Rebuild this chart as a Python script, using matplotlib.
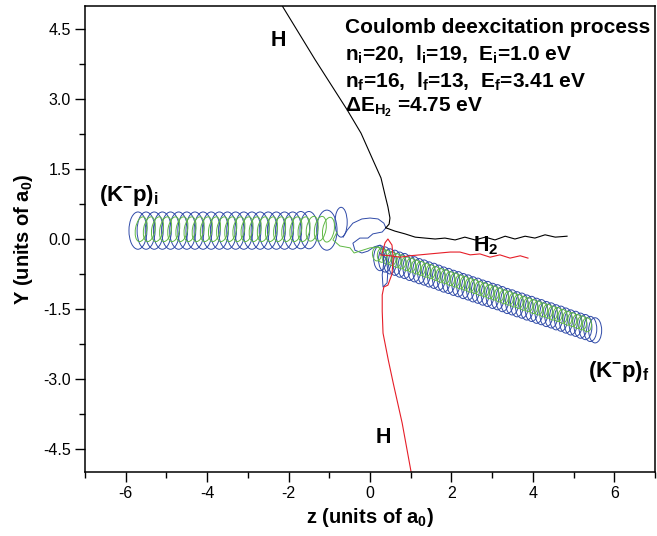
import matplotlib
matplotlib.use('Agg')
import matplotlib.pyplot as plt
from matplotlib.patches import Ellipse
from matplotlib.ticker import MultipleLocator, FormatStrFormatter

plt.rcParams['font.family'] = ['Liberation Sans', 'DejaVu Sans']
plt.rcParams['mathtext.fontset'] = 'custom'
plt.rcParams['mathtext.rm'] = 'Liberation Sans:bold'
plt.rcParams['mathtext.bf'] = 'Liberation Sans:bold'
plt.rcParams['mathtext.it'] = 'Liberation Sans:bold'
plt.rcParams['mathtext.sf'] = 'Liberation Sans:bold'
plt.rcParams['mathtext.default'] = 'bf'
plt.rcParams['axes.unicode_minus'] = False

# ---------------- data ----------------
# incoming (K-p)_i helix: loop centres
blue_in_z = [-5.70, -5.50, -5.30, -5.10, -4.90, -4.70, -4.50, -4.30, -4.10, -3.90, -3.70,
             -3.50, -3.30, -3.10, -2.90, -2.70, -2.50, -2.30, -2.10, -1.90, -1.70, -1.50]
blue_in_y = [0.18, 0.18, 0.18, 0.18, 0.18, 0.18, 0.18, 0.18, 0.18, 0.18, 0.18,
             0.18, 0.18, 0.18, 0.18, 0.18, 0.18, 0.18, 0.18, 0.18, 0.19, 0.19]
green_in_z = [-5.62, -5.42, -5.22, -5.02, -4.82, -4.62, -4.42, -4.22, -4.02, -3.82, -3.62, -3.42,
              -3.22, -3.02, -2.82, -2.62, -2.42, -2.22, -2.02, -1.82, -1.62, -1.42, -1.22, -1.02]
green_in_y = [0.21, 0.21, 0.21, 0.21, 0.21, 0.21, 0.21, 0.21, 0.21, 0.21, 0.21, 0.21,
              0.21, 0.21, 0.21, 0.21, 0.21, 0.21, 0.21, 0.21, 0.21, 0.22, 0.22, 0.20]

# larger transition loops
blue_mid_z = [-1.06, -0.71]
blue_mid_y = [0.19, 0.36]
blue_mid_a = [0.25, 0.15]
blue_mid_b = [0.43, 0.32]

# collision region trajectories
blue_link_z = [-0.66, -0.56, -0.42, -0.20, 0.00, 0.20, 0.34, 0.39, 0.30, 0.07, -0.05, -0.25,
               -0.42, -0.37, -0.20, -0.05, 0.10, 0.25, 0.32, 0.34, 0.30, 0.32, 0.42, 0.44, 0.39, 0.25]
blue_link_y = [0.04, 0.19, 0.34, 0.43, 0.45, 0.43, 0.34, 0.24, 0.15, 0.11, 0.02, 0.02,
               -0.09, -0.24, -0.30, -0.26, -0.17, -0.13, -0.24, -0.49, -0.77, -1.03, -0.94, -0.67, -0.41, -0.30]
green_link_z = [-0.81, -0.91, -0.74, -0.49, -0.39, -0.25, 0.00, 0.20, 0.39]
green_link_y = [0.15, -0.02, -0.15, -0.19, -0.30, -0.26, -0.19, -0.17, -0.24]

# outgoing (K-p)_f helix: loop centres
blue_out_z = [0.25, 0.37, 0.49, 0.61, 0.73, 0.85, 0.97, 1.09, 1.21, 1.33, 1.45, 1.57, 1.69, 1.81, 1.93,
              2.05, 2.17, 2.29, 2.41, 2.53, 2.65, 2.77, 2.89, 3.01, 3.13, 3.25, 3.37, 3.49, 3.61, 3.73,
              3.85, 3.97, 4.09, 4.21, 4.33, 4.45, 4.57, 4.69, 4.81, 4.93, 5.05, 5.17, 5.29, 5.41, 5.53]
blue_out_y = [-0.41, -0.44, -0.48, -0.51, -0.55, -0.58, -0.62, -0.65, -0.69, -0.72, -0.76, -0.79, -0.83,
              -0.87, -0.90, -0.94, -0.97, -1.01, -1.04, -1.08, -1.11, -1.15, -1.18, -1.22, -1.25, -1.29,
              -1.33, -1.36, -1.40, -1.43, -1.47, -1.50, -1.54, -1.57, -1.61, -1.64, -1.68, -1.71, -1.75,
              -1.79, -1.82, -1.86, -1.89, -1.93, -1.96]

# H atom (black, incoming from top) and H2 partner (black, to the right)
h_in_z = [-2.20, -2.14, -1.35, -0.56, -0.22, 0.07, 0.27, 0.37, 0.44, 0.49, 0.47, 0.39]
h_in_y = [5.10, 4.98, 3.85, 2.77, 2.27, 1.70, 1.31, 0.94, 0.69, 0.45, 0.32, 0.24]
h2_z = [0.39, 0.61, 0.86, 1.11, 1.35, 1.60, 1.84, 2.09, 2.33, 2.58, 2.83, 3.07, 3.32, 3.56,
        3.81, 4.05, 4.30, 4.55, 4.84]
h2_y = [0.24, 0.17, 0.11, 0.04, 0.02, 0.00, 0.02, -0.02, 0.04, -0.02, 0.04, -0.02, 0.06, 0.00,
        0.06, 0.02, 0.09, 0.04, 0.06]

# red: outgoing H (down) and H2 partner (right)
hr_z = [0.30, 0.37, 0.44, 0.54, 0.57, 0.54, 0.44, 0.34, 0.30, 0.30, 0.32, 0.45, 0.57, 0.79, 1.02]
hr_y = [-0.30, -0.08, 0.00, -0.13, -0.42, -0.75, -0.99, -1.03, -1.20, -1.55, -2.02, -2.60, -3.09, -3.95, -5.05]
h2r_z = [0.25, 0.49, 0.74, 0.98, 1.23, 1.47, 1.72, 1.97, 2.21, 2.46, 2.70, 2.95, 3.19, 3.44, 3.69, 3.88]
h2r_y = [-0.34, -0.36, -0.39, -0.36, -0.34, -0.32, -0.30, -0.28, -0.28, -0.34, -0.32, -0.39, -0.34,
         -0.41, -0.36, -0.41]

x_ticks = [-6, -4, -2, 0, 2, 4, 6]
y_ticks = [-4.5, -3.0, -1.5, 0.0, 1.5, 3.0, 4.5]

BLUE = '#2f4aa8'
GREEN = '#5fb844'
RED = '#e61e28'

fig = plt.figure(figsize=(6.57, 5.36), dpi=100)
ax = fig.add_axes([85 / 657, 1 - 472 / 536, 570 / 657, 466 / 536])

# blue helices
for z, y in zip(blue_in_z, blue_in_y):
    ax.add_patch(Ellipse((z, y), 0.44, 0.80, fill=False, ec=BLUE, lw=0.7))
for z, y, a, b in zip(blue_mid_z, blue_mid_y, blue_mid_a, blue_mid_b):
    ax.add_patch(Ellipse((z, y), 2 * a, 2 * b, fill=False, ec=BLUE, lw=0.7))
ax.plot(blue_link_z, blue_link_y, color=BLUE, lw=0.7)
for z, y in zip(blue_out_z, blue_out_y):
    ax.add_patch(Ellipse((z, y), 0.32, 0.54, fill=False, ec=BLUE, lw=0.7))

# green helices
for z, y in zip(green_in_z, green_in_y):
    ax.add_patch(Ellipse((z, y), 0.28, 0.54, angle=-12, fill=False, ec=GREEN, lw=0.7))
ax.plot(green_link_z, green_link_y, color=GREEN, lw=0.7)
for z, y in zip(blue_out_z[:-1], blue_out_y[:-1]):
    ax.add_patch(Ellipse((z - 0.08, y + 0.09), 0.22, 0.30, fill=False, ec=GREEN, lw=0.7))

# atoms
ax.plot(h_in_z, h_in_y, color='black', lw=0.8)
ax.plot(h2_z, h2_y, color='black', lw=0.8)
ax.plot(h2r_z, h2r_y, color=RED, lw=0.8)
ax.plot(hr_z, hr_y, color=RED, lw=0.8)

ax.set_xlim(-7, 7)
ax.set_ylim(-5, 5)
ax.set_xticks(x_ticks)
ax.set_yticks(y_ticks)
ax.xaxis.set_minor_locator(MultipleLocator(1))
ax.yaxis.set_minor_locator(MultipleLocator(0.75))
ax.yaxis.set_major_formatter(FormatStrFormatter('%.1f'))
ax.tick_params(which='major', direction='out', length=7, width=1.0, labelsize=11.5, pad=3)
ax.tick_params(which='minor', direction='out', length=4, width=1.0)
ax.tick_params(top=False, right=False, which='both')
for s in ax.spines.values():
    s.set_linewidth(1.1)

ax.set_xlabel('z (units of a$_0$)', fontsize=14.5, fontweight='bold', labelpad=4)
ax.set_ylabel('Y (units of a$_0$)', fontsize=14.5, fontweight='bold', labelpad=6)

tk = dict(fontsize=15.0, fontweight='bold', ha='left', va='center', color='black')
ax.text(-0.62, 4.53, 'Coulomb deexcitation process', **tk)
ax.text(-0.62, 3.95, 'n$_i$=20,  l$_i$=19,  E$_i$=1.0 eV', **tk)
ax.text(-0.62, 3.37, 'n$_f$=16,  l$_f$=13,  E$_f$=3.41 eV', **tk)
ax.text(-0.62, 2.83, '\u0394E$_{H_2}$ =4.75 eV', **tk)

ax.text(-2.26, 4.27, 'H', fontsize=15.5, fontweight='bold', ha='center', va='center')
ax.text(0.32, -4.25, 'H', fontsize=15.5, fontweight='bold', ha='center', va='center')
ax.text(2.52, -0.15, 'H$_2$', fontsize=15.5, fontweight='bold', ha='left', va='center')
ax.text(-6.66, 0.94, '(K$^{-}$p)$_i$', fontsize=16, fontweight='bold', ha='left', va='center')
ax.text(5.36, -2.85, '(K$^{-}$p)$_f$', fontsize=16, fontweight='bold', ha='left', va='center')

fig.savefig('out.png', dpi=100, facecolor='white')
